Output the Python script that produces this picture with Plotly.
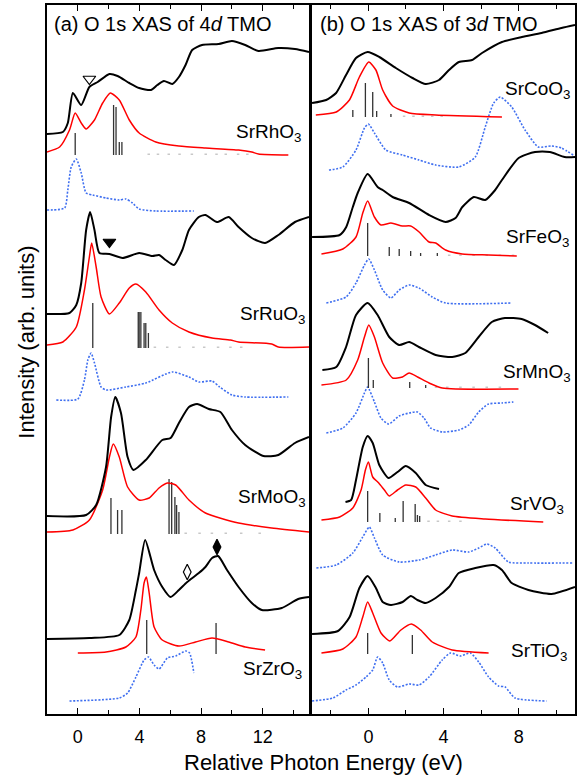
import plotly.graph_objects as go

# ---------------- Panel (a): 4d TMO ----------------
RH_EXP_E = [-2.0, -0.97, -0.65, -0.32, 0.22, 0.75, 1.29, 2.05, 2.58, 3.34, 3.98, 4.74, 5.16, 5.59, 6.13, 6.56, 6.99, 7.42, 8.06, 9.14, 10.0, 10.86, 11.72, 13.01, 14.09, 15.0]
RH_EXP_I = [580, 582, 591, 621, 609, 627, 632, 640, 638, 631, 626, 624, 629, 633, 630, 637, 649, 664, 669, 670, 673, 669, 663, 666, 665, 662]
RH_CAL_E = [-2.0, -1.18, -0.54, -0.17, 0.22, 0.54, 1.08, 1.61, 2.11, 2.69, 3.34, 3.98, 5.06, 6.56, 8.28, 10.43, 11.29, 11.72, 13.66]
RH_CAL_I = [562, 567, 584, 601, 591, 585, 594, 611, 621, 614, 594, 581, 572, 568, 566, 564, 562, 560, 559]
RH_STK_E = [-0.17, 2.32, 2.48, 2.69, 2.86]
RH_STK_I = [581, 609, 607, 572, 572]
RH_STK_BASE = 559
RH_DFT_E = [-2.0, -0.86, -0.65, -0.43, -0.1, 0.22, 0.54, 0.97, 1.83, 2.69, 3.12, 3.55, 3.98, 5.06, 7.53]
RH_DFT_I = [504, 506, 524, 547, 555, 541, 521, 519, 516, 514, 515, 511, 505, 503, 503]

RU_EXP_E = [-2.0, -0.54, -0.1, 0.22, 0.54, 0.8, 1.08, 1.40, 2.05, 2.90, 3.98, 4.84, 5.27, 5.7, 6.24, 6.78, 7.21, 7.85, 8.28, 9.03, 9.79, 10.43, 11.29, 12.15, 13.01, 14.09, 15.0]
RU_EXP_I = [400, 401, 409, 431, 484, 502, 484, 461, 460, 456, 461, 458, 459, 454, 449, 464, 484, 497, 499, 492, 497, 487, 476, 471, 479, 492, 497]
RU_CAL_E = [-2.0, -0.97, -0.1, 0.43, 0.75, 0.9, 1.19, 1.51, 2.05, 2.69, 3.34, 3.77, 4.41, 5.27, 6.13, 7.21, 8.71, 9.9, 10.43, 12.58, 13.01, 15.0]
RU_CAL_I = [369, 372, 387, 424, 457, 471, 447, 417, 400, 411, 426, 430, 422, 404, 391, 382, 376, 374, 372, 370, 367, 367]
RU_STK_E = [0.97, 3.92, 3.98, 4.09, 4.3, 4.41, 4.58]
RU_STK_I = [411, 402, 402, 402, 391, 391, 381]
RU_STK_BASE = 366
RU_DFT_E = [-1.4, 0.0, 0.43, 0.65, 0.86, 1.08, 1.51, 1.83, 3.12, 4.41, 6.13, 7.21, 7.85, 8.71, 9.2, 10.0, 10.86, 13.66]
RU_DFT_I = [314, 315, 334, 354, 361, 351, 327, 324, 327, 331, 342, 337, 332, 333, 327, 319, 317, 317]

MO_EXP_E = [-2.0, 0.54, 1.19, 1.83, 2.16, 2.43, 2.8, 3.23, 3.61, 4.41, 5.48, 6.02, 6.56, 7.21, 7.74, 8.5, 9.25, 10.0, 10.86, 12.04, 13.01, 14.09, 15.0]
MO_EXP_I = [198, 199, 209, 247, 297, 317, 301, 257, 244, 254, 274, 276, 291, 307, 310, 305, 302, 284, 269, 258, 259, 271, 277]
MO_CAL_E = [-2.0, -0.32, 0.75, 1.61, 2.05, 2.3, 2.69, 3.23, 3.98, 4.63, 5.27, 5.81, 6.35, 7.21, 8.28, 10.43, 12.58, 15.0]
MO_CAL_I = [182, 184, 194, 224, 257, 270, 257, 227, 214, 216, 226, 231, 229, 214, 201, 191, 186, 182]
MO_STK_E = [2.15, 2.58, 2.86, 5.92, 6.09, 6.3, 6.41, 6.56]
MO_STK_I = [216, 204, 204, 235, 232, 217, 209, 202]
MO_STK_BASE = 180

ZR_EXP_E = [-2.0, 0.75, 2.69, 3.34, 3.77, 3.98, 4.37, 4.95, 5.48, 6.02, 6.56, 7.1, 7.85, 8.28, 8.71, 9.1, 9.68, 10.43, 11.29, 11.94, 13.23, 14.3, 15.0]
ZR_EXP_I = [75, 76, 79, 94, 124, 141, 174, 144, 127, 117, 124, 132, 141, 147, 156, 158, 144, 127, 111, 104, 106, 115, 117]
ZR_CAL_E = [0.0, 1.83, 3.12, 3.77, 4.09, 4.3, 4.45, 4.63, 4.95, 5.48, 6.56, 7.64, 8.71, 9.79, 10.86, 12.15]
ZR_CAL_I = [61, 62, 67, 77, 104, 131, 137, 121, 87, 74, 68, 72, 76, 72, 67, 64]
ZR_STK_E = [4.47, 8.97]
ZR_STK_I = [94, 91]
ZR_STK_BASE = 60
ZR_DFT_E = [-0.54, 2.69, 3.23, 3.77, 4.3, 4.58, 4.95, 5.27, 5.81, 6.35, 6.99, 7.25, 7.53]
ZR_DFT_I = [13, 16, 21, 37, 54, 57, 49, 45, 56, 58, 63, 61, 41]

# ---------------- Panel (b): 3d TMO ----------------
CO_EXP_E = [-3.0, -2.25, -1.72, -1.19, -0.66, -0.04, 0.58, 1.46, 2.35, 3.05, 3.76, 4.29, 4.82, 5.52, 6.05, 7.11, 8.17, 9.22, 10.28, 11.0]
CO_EXP_I = [611, 614, 621, 639, 656, 662, 657, 646, 636, 630, 634, 644, 652, 654, 661, 672, 677, 681, 686, 689]
CO_CAL_E = [-2.8, -1.71, -1.01, -0.48, 0.02, 0.4, 0.76, 1.29, 2.17, 3.58, 7.11]
CO_CAL_I = [599, 602, 614, 637, 652, 644, 624, 608, 601, 599, 597]
CO_STK_E = [-0.83, -0.16, 0.23, 0.44, 1.2]
CO_STK_I = [604, 631, 622, 603, 600]
CO_STK_BASE = 597
CO_DFT_E = [-2.1, -1.36, -0.66, -0.21, 0.0, 0.32, 0.93, 1.81, 2.69, 3.58, 4.81, 5.69, 6.22, 6.67, 7.02, 7.63, 8.34, 9.05, 9.75, 10.28, 10.9]
CO_DFT_I = [544, 547, 564, 586, 590, 581, 564, 559, 554, 549, 547, 557, 587, 611, 617, 607, 584, 567, 568, 566, 559]

FE_EXP_E = [-3.0, -1.53, -1.18, -0.83, -0.57, -0.04, 0.49, 0.76, 1.29, 2.17, 3.23, 4.11, 4.64, 5.0, 5.61, 6.22, 6.75, 7.11, 8.0, 8.87, 9.66, 10.45, 11.0]
FE_EXP_I = [477, 479, 487, 507, 521, 540, 527, 524, 517, 511, 499, 492, 496, 507, 517, 514, 524, 534, 556, 562, 562, 557, 557]
FE_CAL_E = [-2.5, -1.36, -0.66, -0.30, -0.04, 0.32, 0.67, 1.2, 1.81, 2.25, 2.7, 3.23, 3.58, 4.11, 4.99, 6.4, 7.9]
FE_CAL_I = [460, 465, 477, 501, 513, 497, 489, 491, 488, 488, 482, 472, 471, 464, 460, 459, 458]
FE_STK_E = [-0.04, 1.11, 1.64, 2.25, 2.78, 3.67]
FE_STK_I = [491, 467, 465, 463, 461, 461]
FE_STK_BASE = 458
FE_DFT_E = [-2.24, -1.19, -0.66, -0.21, 0.02, 0.32, 0.76, 1.2, 1.64, 2.17, 2.69, 3.4, 4.11, 7.63]
FE_DFT_I = [411, 417, 431, 449, 455, 444, 424, 416, 424, 429, 426, 417, 411, 411]

MN_EXP_E = [-2.45, -1.71, -1.19, -0.66, -0.04, 0.49, 1.11, 1.64, 2.17, 2.69, 3.58, 4.46, 5.16, 5.87, 6.57, 7.27, 8.16, 8.87, 9.57]
MN_EXP_I = [344, 347, 367, 399, 411, 399, 377, 369, 372, 367, 359, 357, 361, 377, 392, 396, 395, 389, 381]
MN_CAL_E = [-2.5, -1.18, -0.57, -0.21, 0.02, 0.32, 0.76, 1.29, 1.81, 2.17, 2.62, 3.23, 3.93, 7.99]
MN_CAL_I = [329, 334, 354, 377, 389, 377, 351, 336, 337, 341, 337, 331, 326, 325]
MN_STK_E = [0.0, 0.26, 2.2, 3.05]
MN_STK_I = [356, 334, 332, 329]
MN_STK_BASE = 326
MN_DFT_E = [-2.24, -1.36, -0.66, -0.21, -0.04, 0.32, 0.67, 1.08, 1.64, 2.17, 2.61, 2.96, 3.31, 3.93, 4.81, 5.34, 5.87, 6.4, 7.11, 7.72]
MN_DFT_I = [281, 286, 301, 321, 327, 312, 296, 290, 298, 301, 302, 296, 286, 282, 284, 289, 302, 310, 311, 312]

V_EXP_E = [-1.22, -0.92, -0.66, -0.3, -0.04, 0.23, 0.58, 1.07, 1.55, 1.99, 2.52, 3.05, 3.76]
V_EXP_I = [212, 214, 234, 267, 278, 271, 249, 236, 242, 248, 241, 229, 225]
V_CAL_E = [-2.5, -1.53, -0.83, -0.39, -0.16, 0.0, 0.23, 0.55, 0.85, 1.11, 1.55, 1.99, 2.52, 3.05, 3.58, 4.46, 6.22, 9.31]
V_CAL_I = [194, 197, 206, 224, 244, 252, 237, 231, 224, 218, 224, 229, 227, 216, 204, 198, 195, 192]
V_STK_E = [-0.04, 0.61, 1.43, 1.85, 2.49, 2.61, 2.73]
V_STK_I = [223, 201, 196, 213, 210, 199, 198]
V_STK_BASE = 192
V_DFT_E = [-2.77, -1.71, -0.83, -0.3, 0.05, 0.32, 0.76, 1.64, 2.7, 3.58, 4.46, 5.34, 5.87, 6.31, 6.75, 7.46, 8.52, 10.9]
V_DFT_I = [146, 149, 161, 177, 187, 176, 159, 152, 154, 159, 164, 162, 166, 170, 166, 152, 151, 151]

TI_EXP_E = [-3.0, -1.62, -1.0, -0.48, -0.04, 0.4, 0.76, 1.2, 1.82, 2.26, 2.61, 3.05, 3.58, 4.29, 4.81, 5.69, 6.67, 7.11, 7.63, 8.52, 9.75, 11.0]
TI_EXP_I = [80, 83, 97, 126, 138, 126, 112, 109, 112, 118, 114, 111, 116, 127, 141, 146, 149, 144, 131, 124, 120, 127]
TI_CAL_E = [-2.5, -1.36, -0.66, -0.3, -0.04, 0.23, 0.67, 1.14, 1.73, 2.29, 2.78, 3.4, 4.46, 6.4]
TI_CAL_I = [61, 65, 77, 97, 112, 101, 81, 73, 84, 90, 84, 72, 64, 61]
TI_STK_E = [-0.04, 2.34]
TI_STK_I = [81, 79]
TI_STK_BASE = 60
TI_DFT_E = [-3.0, -1.89, -1.19, -0.66, -0.13, 0.23, 0.49, 0.76, 1.11, 1.55, 2.17, 2.69, 3.23, 3.93, 4.37, 4.9, 5.43, 5.87, 6.4, 6.93, 7.28, 7.81, 9.49]
TI_DFT_I = [13, 16, 24, 29, 37, 44, 57, 51, 34, 27, 30, 29, 37, 54, 61, 58, 61, 52, 37, 28, 27, 16, 13]

# faint trailing weak transitions (tiny sticks along the baselines)
RH_WEAK_E = [4.6, 5.2, 5.9, 6.6, 7.4, 8.3, 9.0, 9.6, 10.4, 11.0]
RU_WEAK_E = [5.0, 5.8, 6.6, 7.5, 8.2, 9.1, 9.9, 10.6]
MO_WEAK_E = [7.0, 7.9, 8.7, 9.6, 10.6, 11.8]
CO_WEAK_E = [1.9, 2.4, 2.9, 3.4, 3.9]
FE_WEAK_E = [4.3, 4.9, 5.6, 6.3, 7.0, 7.7]
MN_WEAK_E = [3.6, 4.2, 4.9, 5.6, 6.3, 7.0]
V_WEAK_E = [3.2, 3.7, 4.3, 4.9]

# Feature markers (panel a)
MARK_E = [0.75, 2.05, 7.1, 9.03]
MARK_I = [635, 472, 142, 167]
MARK_SYM = ["triangle-down-open", "triangle-down", "diamond-tall-open", "diamond-tall"]

# Labels
LABELS_A = ["SrRhO<sub>3</sub>", "SrRuO<sub>3</sub>", "SrMoO<sub>3</sub>", "SrZrO<sub>3</sub>"]
LABELS_A_E = [12.4, 12.6, 12.6, 12.6]
LABELS_A_I = [581, 399, 216, 44]
LABELS_B = ["SrCoO<sub>3</sub>", "SrFeO<sub>3</sub>", "SrMnO<sub>3</sub>", "SrVO<sub>3</sub>", "SrTiO<sub>3</sub>"]
LABELS_B_E = [9.0, 9.0, 9.0, 9.0, 9.1]
LABELS_B_I = [624, 476, 341, 209, 62]

X_TICKS_A = [0, 4, 8, 12]
X_TICKS_B = [0, 4, 8]

FONT = "Liberation Sans, Arial, sans-serif"
BLACK, RED, BLUE, STK, WEAK = "#000000", "#ff0000", "#3f6ff0", "#333333", "#c8c8c8"

fig = go.Figure()

def add_line(e, i, color, width, dash, xa, ya):
    fig.add_trace(go.Scatter(x=e, y=i, mode="lines", xaxis=xa, yaxis=ya,
                             line=dict(color=color, width=width, dash=dash, shape="spline", smoothing=0.6),
                             hoverinfo="skip", showlegend=False))

def add_sticks(e, i, base, xa, ya, color=STK, width=1.3):
    xs, ys = [], []
    for ee, ii in zip(e, i):
        xs += [ee, ee, None]
        ys += [base, ii, None]
    fig.add_trace(go.Scatter(x=xs, y=ys, mode="lines", xaxis=xa, yaxis=ya,
                             line=dict(color=color, width=width), hoverinfo="skip", showlegend=False))

panel_a = [
    (RH_EXP_E, RH_EXP_I, RH_CAL_E, RH_CAL_I, RH_STK_E, RH_STK_I, RH_STK_BASE, RH_DFT_E, RH_DFT_I, RH_WEAK_E),
    (RU_EXP_E, RU_EXP_I, RU_CAL_E, RU_CAL_I, RU_STK_E, RU_STK_I, RU_STK_BASE, RU_DFT_E, RU_DFT_I, RU_WEAK_E),
    (MO_EXP_E, MO_EXP_I, MO_CAL_E, MO_CAL_I, MO_STK_E, MO_STK_I, MO_STK_BASE, None, None, MO_WEAK_E),
    (ZR_EXP_E, ZR_EXP_I, ZR_CAL_E, ZR_CAL_I, ZR_STK_E, ZR_STK_I, ZR_STK_BASE, ZR_DFT_E, ZR_DFT_I, []),
]
panel_b = [
    (CO_EXP_E, CO_EXP_I, CO_CAL_E, CO_CAL_I, CO_STK_E, CO_STK_I, CO_STK_BASE, CO_DFT_E, CO_DFT_I, CO_WEAK_E),
    (FE_EXP_E, FE_EXP_I, FE_CAL_E, FE_CAL_I, FE_STK_E, FE_STK_I, FE_STK_BASE, FE_DFT_E, FE_DFT_I, FE_WEAK_E),
    (MN_EXP_E, MN_EXP_I, MN_CAL_E, MN_CAL_I, MN_STK_E, MN_STK_I, MN_STK_BASE, MN_DFT_E, MN_DFT_I, MN_WEAK_E),
    (V_EXP_E, V_EXP_I, V_CAL_E, V_CAL_I, V_STK_E, V_STK_I, V_STK_BASE, V_DFT_E, V_DFT_I, V_WEAK_E),
    (TI_EXP_E, TI_EXP_I, TI_CAL_E, TI_CAL_I, TI_STK_E, TI_STK_I, TI_STK_BASE, TI_DFT_E, TI_DFT_I, []),
]

for panel, xa, ya in [(panel_a, "x", "y"), (panel_b, "x2", "y2")]:
    for (ee, ei, ce, ci, se, si, sb, de, di, we) in panel:
        if de is not None:
            add_line(de, di, BLUE, 1.6, "2px,1.6px", xa, ya)
        if we:
            add_sticks(we, [sb + 1.5] * len(we), sb, xa, ya, color=WEAK, width=2.5)
        add_sticks(se, si, sb, xa, ya)
        add_line(ce, ci, RED, 1.5, "solid", xa, ya)
        add_line(ee, ei, BLACK, 2.0, "solid", xa, ya)

fig.add_trace(go.Scatter(x=MARK_E, y=MARK_I, mode="markers", xaxis="x", yaxis="y",
                         marker=dict(symbol=MARK_SYM, size=11, color=BLACK, line=dict(color=BLACK, width=1.2)),
                         hoverinfo="skip", showlegend=False))

ann = []
for t, e, i in zip(LABELS_A, LABELS_A_E, LABELS_A_I):
    ann.append(dict(x=e, y=i, xref="x", yref="y", text=t, showarrow=False,
                    font=dict(size=19, color="black", family=FONT)))
for t, e, i in zip(LABELS_B, LABELS_B_E, LABELS_B_I):
    ann.append(dict(x=e, y=i, xref="x2", yref="y2", text=t, showarrow=False,
                    font=dict(size=19, color="black", family=FONT)))
ann.append(dict(x=-1.65, y=690, xref="x", yref="y", text="(a) O 1s XAS of 4<i>d</i> TMO", showarrow=False,
                xanchor="left", yanchor="middle", font=dict(size=20, color="black", family=FONT)))
ann.append(dict(x=-2.7, y=690, xref="x2", yref="y2", text="(b) O 1s XAS of 3<i>d</i> TMO", showarrow=False,
                xanchor="left", yanchor="middle", font=dict(size=20, color="black", family=FONT)))
ann.append(dict(x=0.523, y=-0.069, xref="paper", yref="paper", text="Relative Photon Energy (eV)",
                xanchor="center", yanchor="middle", showarrow=False,
                font=dict(size=22, color="black", family=FONT)))
ann.append(dict(x=-0.038, y=0.525, xref="paper", yref="paper", text="Intensity (arb. units)", textangle=-90,
                xanchor="center", yanchor="middle", showarrow=False,
                font=dict(size=22, color="black", family=FONT)))

axis_common = dict(showline=True, linecolor="black", linewidth=1.5, mirror="allticks", ticks="inside",
                   ticklen=6, tickwidth=1.2, tickcolor="black", showgrid=False, zeroline=False,
                   ticklabelstandoff=6,
                   tickfont=dict(size=18, color="black", family=FONT))
minor = dict(dtick=2, ticks="inside", ticklen=4, tickwidth=1.2, tickcolor="black", showgrid=False)

fig.update_layout(
    width=578, height=780, margin=dict(l=47, r=1, t=5, b=66),
    paper_bgcolor="white", plot_bgcolor="white", showlegend=False,
    xaxis=dict(domain=[0, 0.4962], range=[-2, 15], tickvals=X_TICKS_A, minor=minor, anchor="y", **axis_common),
    xaxis2=dict(domain=[0.502, 1], range=[-3, 11], tickvals=X_TICKS_B, minor=minor, anchor="y2", **axis_common),
    yaxis=dict(domain=[0, 1], range=[0, 709], showticklabels=False, anchor="x",
               showline=True, linecolor="black", linewidth=1.5, mirror=True, ticks="", showgrid=False, zeroline=False),
    yaxis2=dict(domain=[0, 1], range=[0, 709], showticklabels=False, anchor="x2",
                showline=True, linecolor="black", linewidth=1.5, mirror=True, ticks="", showgrid=False, zeroline=False),
    annotations=ann,
    font=dict(family=FONT, color="black"),
)

fig.write_html("out.html", config={"displayModeBar": False},
               post_script="document.body.style.margin='0';document.body.style.overflow='hidden';")
